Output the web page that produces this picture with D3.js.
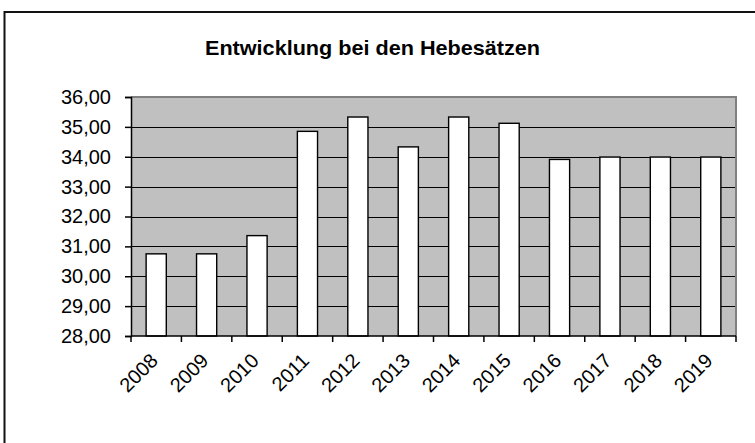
<!DOCTYPE html>
<html>
<head>
<meta charset="utf-8">
<script src="https://cdn.jsdelivr.net/npm/d3@7"></script>
<style>
  html, body { margin: 0; padding: 0; background: #fff; }
  svg { display: block; }
  text { font-family: "Liberation Sans", Arial, sans-serif; fill: #000; }
</style>
</head>
<body>
<svg id="chart" width="755" height="443"></svg>
<script>
const title = "Entwicklung bei den Hebesätzen";
const years = ["2008","2009","2010","2011","2012","2013","2014","2015","2016","2017","2018","2019"];
const values = [30.75, 30.75, 31.36, 34.85, 35.33, 34.33, 35.33, 35.12, 33.91, 33.99, 33.99, 33.99];
const yTicks = [28, 29, 30, 31, 32, 33, 34, 35, 36];

const svg = d3.select("#chart");
const plot = { left: 131, right: 736, top: 97, bottom: 336 };

// outer chart border (extends past right/bottom edges)
svg.append("rect")
  .attr("x", 4.5).attr("y", 12)
  .attr("width", 760).attr("height", 450)
  .attr("fill", "#fff").attr("stroke", "#111").attr("stroke-width", 2);

// title
svg.append("text")
  .attr("x", 372.5).attr("y", 55)
  .attr("text-anchor", "middle")
  .attr("font-size", 21).attr("font-weight", "bold")
  .attr("textLength", 335).attr("lengthAdjust", "spacingAndGlyphs")
  .text(title);

const x = d3.scaleBand().domain(years)
  .range([plot.left, plot.right])
  .paddingInner(0.6).paddingOuter(0.3);
const y = d3.scaleLinear().domain([28, 36]).range([plot.bottom, plot.top]);

// plot area
svg.append("rect")
  .attr("x", plot.left).attr("y", plot.top)
  .attr("width", plot.right - plot.left).attr("height", plot.bottom - plot.top)
  .attr("fill", "#c0c0c0");

// gridlines
svg.append("g").selectAll("line")
  .data(yTicks.filter(t => t > 28 && t < 36))
  .join("line")
  .attr("x1", plot.left).attr("x2", plot.right)
  .attr("y1", d => Math.round(y(d)) + 0.5).attr("y2", d => Math.round(y(d)) + 0.5)
  .attr("stroke", "#000").attr("stroke-width", 1.2);

// plot border top and right (grey)
svg.append("path")
  .attr("d", `M${plot.left},${plot.top} H${plot.right} V${plot.bottom}`)
  .attr("fill", "none").attr("stroke", "#808080").attr("stroke-width", 2);

// bars
svg.append("g").selectAll("rect")
  .data(years.map((yr, i) => ({ yr, v: values[i] })))
  .join("rect")
  .attr("x", d => x(d.yr))
  .attr("y", d => y(d.v))
  .attr("width", x.bandwidth())
  .attr("height", d => y(28) - y(d.v))
  .attr("fill", "#fff").attr("stroke", "#000").attr("stroke-width", 1.4);

// y axis
const yAxis = d3.axisLeft(y).tickValues(yTicks).tickSize(6).tickPadding(14)
  .tickFormat(d => d3.format(".2f")(d).replace(".", ","));
const gy = svg.append("g").attr("transform", `translate(${plot.left},0)`).call(yAxis);
gy.select(".domain").attr("stroke", "#000").attr("stroke-width", 1.5);
gy.selectAll(".tick line").attr("stroke", "#000").attr("stroke-width", 1.5);
gy.selectAll(".tick text").attr("font-size", 20).attr("font-family", "Liberation Sans, Arial, sans-serif").attr("fill", "#000");

// x axis: line and tick marks at category boundaries
const boundaries = d3.range(years.length + 1).map(i => plot.left + i * (plot.right - plot.left) / years.length);
const gx = svg.append("g");
gx.append("line")
  .attr("x1", plot.left).attr("x2", plot.right)
  .attr("y1", plot.bottom).attr("y2", plot.bottom)
  .attr("stroke", "#000").attr("stroke-width", 1.5);
gx.selectAll("line.tk").data(boundaries).join("line").attr("class", "tk")
  .attr("x1", d => d).attr("x2", d => d)
  .attr("y1", plot.bottom).attr("y2", plot.bottom + 6)
  .attr("stroke", "#000").attr("stroke-width", 1.5);
gx.selectAll("text").data(years).join("text")
  .attr("transform", d => `translate(${x(d) + x.bandwidth() / 2 + 3},${plot.bottom + 26}) rotate(-45)`)
  .attr("text-anchor", "end")
  .attr("font-size", 20)
  .text(d => d);
</script>
</body>
</html>
